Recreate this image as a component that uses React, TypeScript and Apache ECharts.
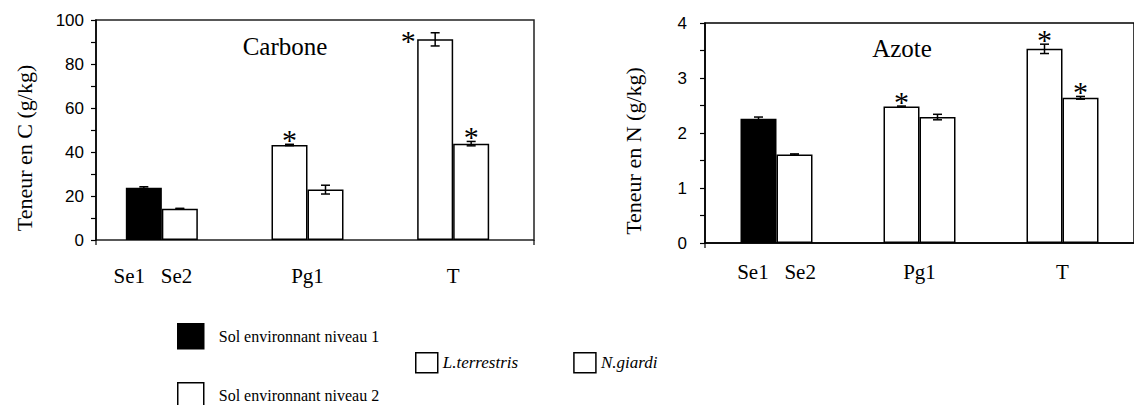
import React, { useEffect, useRef } from 'react';
import * as echarts from 'echarts';

// ---- data ----
const categories = ['Se1   Se2', 'Pg1', 'T'];
const legendSol = ['Sol environnant niveau 1', 'Sol environnant niveau 2'];
const legendWorms = ['L.terrestris', 'N.giardi'];

// Carbone (g/kg)
const carbonSol = [23.8, 14.2]; // Se1, Se2
const carbonSolErr = [0.4, 0.2];
const carbonLt = [43.2, 91.2]; // Pg1, T
const carbonLtErr = [0.3, 3.0];
const carbonNg = [22.9, 43.8];
const carbonNgErr = [2.0, 1.0];
const carbonLtStar = [1, 1];
const carbonNgStar = [0, 1];
const carbonTicks = [0, 20, 40, 60, 80, 100];

// Azote (g/kg)
const azoteSol = [2.26, 1.61];
const azoteSolErr = [0.03, 0.01];
const azoteLt = [2.48, 3.53];
const azoteLtErr = [0.01, 0.085];
const azoteNg = [2.29, 2.64];
const azoteNgErr = [0.05, 0.025];
const azoteLtStar = [1, 1];
const azoteNgStar = [0, 1];
const azoteTicks = [0, 1, 2, 3, 4];

// ---- layout ----
const BAR_W = 36;
const SERIF = '"Liberation Serif", "Times New Roman", serif';
const SANS = '"Liberation Sans", Arial, sans-serif';

const G1 = { left: 89, top: 20, width: 437, height: 220 };
const G2 = { left: 705, top: 23, width: 429, height: 220 };
const FRAME1 = { x: 96, right: 534 };

function barSeries(idx: number, sol: number[], lt: number[], ng: number[]) {
  const common = {
    type: 'bar' as const,
    xAxisIndex: idx,
    yAxisIndex: idx,
    barWidth: BAR_W,
    barGap: 0,
    itemStyle: { borderColor: '#000', borderWidth: 1.5 },
  };
  return [
    { ...common, name: legendSol[0], stack: 's' + idx + 'a', data: [sol[0], '-', '-'], itemStyle: { ...common.itemStyle, color: '#000' } },
    { ...common, name: legendWorms[0], stack: 's' + idx + 'a', data: ['-', lt[0], lt[1]], itemStyle: { ...common.itemStyle, color: '#fff' } },
    { ...common, name: legendSol[1], stack: 's' + idx + 'b', data: [sol[1], '-', '-'], itemStyle: { ...common.itemStyle, color: '#fff' } },
    { ...common, name: legendWorms[1], stack: 's' + idx + 'b', data: ['-', ng[0], ng[1]], itemStyle: { ...common.itemStyle, color: '#fff' } },
  ];
}

function errorSeries(idx: number, sol: number[], solErr: number[], lt: number[], ltErr: number[], ng: number[], ngErr: number[], ltStar: number[], ngStar: number[]) {
  const data: number[][] = [
    [0, sol[0], solErr[0], 0, 0],
    [0, sol[1], solErr[1], 1, 0],
  ];
  lt.forEach((v, i) => data.push([i + 1, v, ltErr[i], 0, ltStar[i]]));
  ng.forEach((v, i) => data.push([i + 1, v, ngErr[i], 1, ngStar[i]]));
  return {
    type: 'custom' as const,
    xAxisIndex: idx,
    yAxisIndex: idx,
    silent: true,
    clip: false,
    z: 10,
    encode: { x: 0, y: 1 },
    data,
    renderItem: (params: any, api: any) => {
      const cat = api.value(0);
      const v = api.value(1);
      const e = api.value(2);
      const slot = api.value(3);
      const star = api.value(4);
      const base = api.coord([cat, v]);
      const x = base[0] + (slot === 0 ? -BAR_W / 2 : BAR_W / 2);
      const yTop = api.coord([cat, v + e])[1];
      const yBot = api.coord([cat, v - e])[1];
      const cap = 4.5;
      const ls = { stroke: '#000', lineWidth: 1.5 };
      const children: any[] = [
        { type: 'line', shape: { x1: x, y1: yTop, x2: x, y2: yBot }, style: ls },
        { type: 'line', shape: { x1: x - cap, y1: yTop, x2: x + cap, y2: yTop }, style: ls },
        { type: 'line', shape: { x1: x - cap, y1: yBot, x2: x + cap, y2: yBot }, style: ls },
      ];
      if (star) {
        const cs = params.coordSys;
        let sx = x;
        let sy = yTop - 5;
        if (sy - 12 < cs.y) {
          sx = x - BAR_W / 2 - 9;
          sy = base[1] + 1;
        }
        children.push({
          type: 'text',
          style: { text: '*', x: sx, y: sy, align: 'center', verticalAlign: 'middle', fontSize: 30, fontFamily: SERIF, fill: '#000' },
        });
      }
      return { type: 'group', children };
    },
  };
}

function yAxis(idx: number, max: number, interval: number, ticks: number[], name: string, offset: number, margin: number) {
  return {
    type: 'value' as const,
    gridIndex: idx,
    min: 0,
    max,
    interval,
    offset,
    axisLine: { show: true, lineStyle: { color: '#000', width: 1.5 } },
    axisTick: { show: true, inside: false, length: 5, lineStyle: { color: '#000', width: 1.2 } },
    axisLabel: {
      formatter: (v: number) => (ticks.indexOf(v) >= 0 ? String(v) : ''),
      fontFamily: SANS,
      fontSize: 17,
      color: '#000',
      margin,
    },
    splitLine: { show: false },
    name,
    nameLocation: 'middle' as const,
    nameGap: 61,
    nameTextStyle: { fontFamily: SERIF, fontSize: 22, color: '#000', padding: [0, 36, 0, 0] },
  };
}

function xAxis(idx: number, margin: number, showLine: boolean, firstPad: number) {
  return {
    type: 'category' as const,
    gridIndex: idx,
    data: categories,
    axisLine: { show: showLine, lineStyle: { color: '#000', width: 1.5 } },
    axisTick: { show: false },
    axisLabel: {
      fontFamily: SERIF,
      fontSize: 21,
      color: '#000',
      margin,
      interval: 0,
      formatter: (v: string) => (v === categories[0] ? '{se|' + v + '}' : v),
      rich: { se: { fontFamily: SERIF, fontSize: 21, color: '#000', padding: [0, firstPad, 0, 0] } },
    },
    splitLine: { show: false },
  };
}

function legendBox(names: string[], left: number, top: number, w: number, h: number, gap: number, textStyle: any) {
  return {
    data: names,
    orient: 'horizontal',
    left,
    top,
    padding: 0,
    itemWidth: w,
    itemHeight: h,
    itemGap: gap,
    selectedMode: false,
    icon: 'rect',
    itemStyle: { borderColor: '#000', borderWidth: 1.5 },
    textStyle,
  };
}

export default function App() {
  const ref = useRef<HTMLDivElement>(null);
  useEffect(() => {
    if (!ref.current) return;
    const chart = echarts.init(ref.current, undefined, { renderer: 'svg' });
    const g1Bottom = G1.top + G1.height;
    const g2Bottom = G2.top + G2.height;
    const solText = { fontFamily: SERIF, fontSize: 16, color: '#000', padding: [0, 0, 0, 10] };
    const wormText = { fontFamily: SERIF, fontSize: 17, fontStyle: 'italic', color: '#000' };
    const option: any = {
      animation: false,
      backgroundColor: '#fff',
      title: [
        { text: 'Carbone', left: 285, top: 34, textAlign: 'center', padding: 0, textStyle: { fontFamily: SERIF, fontSize: 25, fontWeight: 'normal', color: '#000' } },
        { text: 'Azote', left: 902, top: 36, textAlign: 'center', padding: 0, textStyle: { fontFamily: SERIF, fontSize: 25, fontWeight: 'normal', color: '#000' } },
      ],
      legend: [
        legendBox([legendSol[0]], 177, 323, 26, 25, 10, solText),
        legendBox([legendSol[1]], 177, 382, 26, 25, 10, solText),
        legendBox(legendWorms, 415, 352, 22, 20, 55, wormText),
      ],
      grid: [
        { ...G1 },
        { ...G2, show: true, borderColor: '#000', borderWidth: 1.5, backgroundColor: 'transparent' },
      ],
      xAxis: [xAxis(0, 25, false, 18), xAxis(1, 18, true, 0)],
      yAxis: [
        yAxis(0, 100, 10, carbonTicks, 'Teneur en C (g/kg)', -(FRAME1.x - G1.left), 12),
        yAxis(1, 4, 0.5, azoteTicks, 'Teneur en N (g/kg)', 0, 18),
      ],
      graphic: [
        {
          type: 'rect',
          shape: { x: FRAME1.x, y: G1.top, width: FRAME1.right - FRAME1.x, height: G1.height },
          style: { fill: 'none', stroke: '#222', lineWidth: 1.5 },
          silent: true,
        },
        { type: 'line', shape: { x1: FRAME1.x, y1: g1Bottom, x2: FRAME1.x, y2: g1Bottom + 5 }, style: { stroke: '#000', lineWidth: 1.2 } },
        { type: 'line', shape: { x1: FRAME1.right, y1: g1Bottom, x2: FRAME1.right, y2: g1Bottom + 5 }, style: { stroke: '#000', lineWidth: 1.2 } },
        { type: 'line', shape: { x1: G2.left, y1: g2Bottom, x2: G2.left, y2: g2Bottom + 5 }, style: { stroke: '#000', lineWidth: 1.2 } },
      ],
      series: [
        ...barSeries(0, carbonSol, carbonLt, carbonNg),
        ...barSeries(1, azoteSol, azoteLt, azoteNg),
        errorSeries(0, carbonSol, carbonSolErr, carbonLt, carbonLtErr, carbonNg, carbonNgErr, carbonLtStar, carbonNgStar),
        errorSeries(1, azoteSol, azoteSolErr, azoteLt, azoteLtErr, azoteNg, azoteNgErr, azoteLtStar, azoteNgStar),
      ],
    };
    chart.setOption(option);
    return () => chart.dispose();
  }, []);
  return <div ref={ref} style={{ position: 'fixed', left: 0, top: 0, width: 1134, height: 405 }} />;
}
